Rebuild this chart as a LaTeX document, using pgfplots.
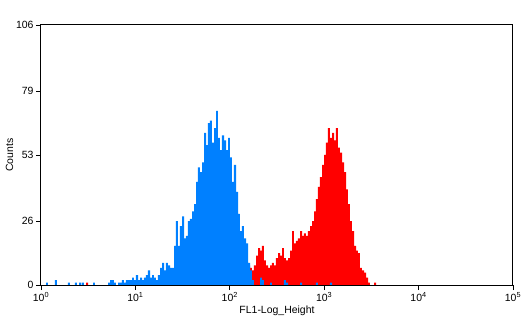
\documentclass[border=0pt]{standalone}
\usepackage{pgfplots}
\pgfplotsset{compat=1.18}
\usepackage{pgfplotstable}
\usepackage{fontspec}
\setmainfont{Liberation Sans}
\definecolor{cblue}{RGB}{0,128,255}
\definecolor{cred}{RGB}{255,0,0}
\pgfplotstableread{
x y
0 0
0.053 1
0.074 0
0.148 2
0.169 0
0.286 1
0.307 0
0.360 1
0.381 0
0.403 1
0.424 0
0.434 1
0.455 0
0.551 1
0.572 0
0.710 1
0.731 2
0.752 2
0.773 1
0.794 0
0.816 1
0.837 1
0.858 2
0.879 1
0.900 2
0.922 2
0.943 2
0.964 3
0.985 2
1.006 4
1.028 2
1.049 3
1.070 2
1.091 3
1.112 4
1.133 6
1.155 3
1.176 4
1.197 3
1.218 2
1.239 4
1.261 7
1.282 9
1.303 6
1.324 9
1.345 8
1.367 7
1.388 7
1.409 16
1.430 26
1.451 16
1.472 24
1.494 28
1.515 19
1.536 20
1.557 26
1.578 27
1.600 30
1.621 33
1.642 42
1.663 48
1.684 46
1.706 50
1.727 62
1.748 57
1.769 66
1.790 67
1.811 58
1.833 64
1.854 71
1.875 60
1.896 55
1.917 61
1.939 59
1.960 55
1.981 60
2.002 52
2.023 42
2.044 49
2.066 38
2.087 29
2.108 22
2.129 24
2.150 19
2.172 17
2.193 9
2.214 6
2.235 2
2.256 0
2.320 3
2.341 2
2.362 0
2.426 1
2.447 0
2.574 2
2.595 1
2.617 0
2.744 1
2.765 0
2.913 1
2.934 0
3.061 1
3.083 0
3.2 0
}\bluedata
\pgfplotstableread{
x y
0 0
0.477 1
0.498 0
2.172 0
2.193 8
2.214 7
2.235 6
2.256 8
2.278 12
2.299 15
2.320 14
2.341 16
2.362 10
2.383 8
2.405 7
2.426 8
2.447 9
2.468 8
2.489 11
2.511 13
2.532 12
2.553 15
2.574 11
2.595 10
2.617 11
2.638 14
2.659 22
2.680 17
2.701 18
2.722 19
2.744 22
2.765 20
2.786 21
2.807 20
2.828 22
2.850 24
2.871 26
2.892 30
2.913 35
2.934 40
2.955 44
2.977 49
2.998 53
3.019 58
3.040 64
3.061 60
3.083 62
3.104 59
3.125 64
3.146 56
3.167 54
3.189 50
3.210 46
3.231 39
3.252 33
3.273 26
3.294 22
3.316 16
3.337 14
3.358 13
3.379 7
3.400 6
3.422 5
3.443 3
3.464 1
3.485 0
3.528 1
3.549 0
3.6 0
}\reddata
\begin{document}
\begin{tikzpicture}
\useasboundingbox (0,0) rectangle (522bp,321bp);
\begin{axis}[
  at={(41bp,36bp)}, anchor=south west,
  scale only axis, width=472bp, height=260bp,
  xmin=0, xmax=5, ymin=0, ymax=106,
  axis line style={line width=1bp},
  xtick={0,1,2,3,4,5},
  xticklabels={10\textsuperscript{0},10\textsuperscript{1},10\textsuperscript{2},10\textsuperscript{3},10\textsuperscript{4},10\textsuperscript{5}},
  ytick={0,26,53,79,106},
  yticklabels={0,26,53,79,106},
  tick align=outside, major tick length=5bp,
  tick style={black, line width=0.8bp},
  xtick pos=bottom, ytick pos=left,
  minor tick num=0,
  ticklabel style={font=\fontsize{10.5}{12}\selectfont},
  xticklabel style={yshift=1bp},
  yticklabel style={xshift=1bp},
  xlabel={FL1-Log\_Height}, ylabel={Counts},
  label style={font=\fontsize{10.5}{12}\selectfont},
  xlabel style={yshift=3bp},
  ylabel style={yshift=-4bp},
  axis on top,
]
\addplot[const plot, fill=cred, draw=none] table[x=x,y=y]{\reddata} \closedcycle;
\addplot[const plot, fill=cblue, draw=none] table[x=x,y=y]{\bluedata} \closedcycle;
\end{axis}
\end{tikzpicture}
\end{document}
